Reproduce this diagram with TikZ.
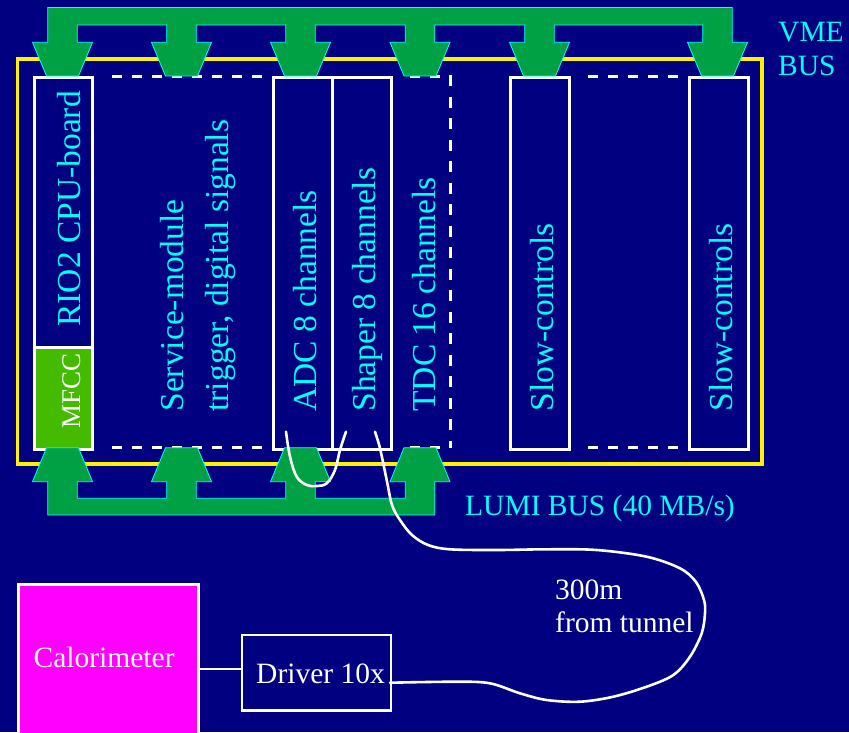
\documentclass[tikz,border=0pt]{standalone}
\usepackage{fontspec}
\setmainfont{Liberation Serif}
\definecolor{navybg}{RGB}{0,0,128}
\definecolor{busgreen}{RGB}{0,160,68}
\definecolor{mfccgreen}{RGB}{68,187,0}
\definecolor{txtcyan}{RGB}{0,255,255}
\definecolor{calmag}{RGB}{255,0,255}
\begin{document}
\begin{tikzpicture}[x=1pt,y=-1pt,
  module/.style={draw=white, line width=3pt, inner sep=0pt, anchor=north west, minimum height=371.7pt},
  dashline/.style={draw=white, line width=3pt, dash pattern=on 10pt off 10pt},
  vlabel/.style={rotate=90, anchor=base west, inner sep=0pt, text=txtcyan, font=\fontsize{33.5}{40}\selectfont},
  hlabel/.style={anchor=base west, inner sep=0pt, font=\fontsize{29.5}{35}\selectfont},
  bus/.style={fill=busgreen, draw=txtcyan, line width=0.8pt, line join=miter},
  cable/.style={draw=white, line width=2.6pt, line cap=round}]
\useasboundingbox (0,0) rectangle (849,732);
\fill[navybg] (0,0) rectangle (849,732);
\clip (0,0) rectangle (849,732);

% crate frame
\draw[yellow, line width=3.6pt] (17.5,58.8) rectangle (762,463.7);

% modules
\node[module, minimum width=58.5pt] (rio) at (32.5,76) {};
\node[module, fill=mfccgreen, minimum width=58.5pt, minimum height=102pt] (mfcc) at (32.5,345.7) {};
\node[module, minimum width=58.4pt] (adc) at (272.3,76) {};
\node[module, minimum width=59.3pt] (shaper) at (330.7,76) {};
\node[module, minimum width=59.5pt] (sc1) at (508.5,76) {};
\node[module, minimum width=59pt] (sc2) at (688,76) {};

% dashed slots
\draw[dashline] (111.7,76) -- (271.7,76);
\draw[dashline] (111.7,447.7) -- (271.7,447.7);
\draw[dashline] (410,76) -- (440,76);
\draw[dashline] (410,447.7) -- (440,447.7);
\draw[white, line width=3pt, dash pattern=on 11pt off 10.5pt] (450,75) -- (450,448);
\draw[dashline] (588.3,76) -- (678.3,76);
\draw[dashline] (588.3,447.7) -- (678.3,447.7);

% module labels
\node[vlabel] (riot) at (80,326.7) {RIO2 CPU-board};
\node[vlabel, text=white, font=\fontsize{27}{32}\selectfont] (mfcct) at (80,429) {MFCC};
\node[vlabel] (serv1) at (183.5,411.7) {Service-module};
\node[vlabel] (serv2) at (228,411.7) {trigger, digital signals};
\node[vlabel] (adct) at (316,411.7) {ADC 8 channels};
\node[vlabel] (shat) at (375,411.7) {Shaper 8 channels};
\node[vlabel] (tdct) at (435,411.7) {TDC 16 channels};
\node[vlabel] (sc1t) at (553.5,411.7) {Slow-controls};
\node[vlabel] (sc2t) at (732.5,411.7) {Slow-controls};

% VME bus
\filldraw[bus] (46.5,76) -- (32.5,42.3) -- (47.7,42.3) -- (47.7,7.5) -- (732.3,7.5) -- (732.3,42.3) -- (747.5,42.3) -- (733.5,76) -- (701.5,76) -- (687.5,42.3) -- (702.7,42.3) -- (702.7,25)
  \foreach \c in {539.5,420,300.5,181.5} { -- ({\c+14.8},25) -- ({\c+14.8},42.3) -- ({\c+30},42.3) -- ({\c+16},76) -- ({\c-16},76) -- ({\c-30},42.3) -- ({\c-14.8},42.3) -- ({\c-14.8},25) }
  -- (77.3,25) -- (77.3,42.3) -- (92.5,42.3) -- (78.5,76) -- cycle;

% LUMI bus
\filldraw[bus] (46.5,447.7) -- (32.5,481.7) -- (47.7,481.7) -- (47.7,515) -- (434.8,515) -- (434.8,481.7) -- (450,481.7) -- (436,447.7) -- (404,447.7) -- (390,481.7) -- (405.2,481.7) -- (405.2,498.3)
  \foreach \c in {300.5,181.5} { -- ({\c+14.8},498.3) -- ({\c+14.8},481.7) -- ({\c+30},481.7) -- ({\c+16},447.7) -- ({\c-16},447.7) -- ({\c-30},481.7) -- ({\c-14.8},481.7) -- ({\c-14.8},498.3) }
  -- (77.3,498.3) -- (77.3,481.7) -- (92.5,481.7) -- (78.5,447.7) -- cycle;

% bus labels
\node[hlabel, text=txtcyan] (vme1) at (778,41.7) {VME};
\node[hlabel, text=txtcyan] (vme2) at (778,75) {BUS};
\node[hlabel, text=txtcyan] (lumi) at (465,515) {LUMI BUS (40 MB/s)};

% calorimeter and driver
\node[draw=white, fill=calmag, line width=3pt, inner sep=0pt, anchor=north west, minimum width=180pt, minimum height=169.2pt] (cal) at (16.7,582.7) {};
\node[hlabel, text=white] (calt) at (33.5,667.3) {Calorimeter};
\node[draw=white, line width=2.4pt, inner sep=0pt, anchor=north west, minimum width=149.3pt, minimum height=75.8pt] (drv) at (240.7,633.5) {};
\node[hlabel, text=white] (drvt) at (256,683.3) {Driver 10x};
\draw[white, line width=2.6pt] (cal.east) -- (cal.east -| drv.west);

% cable labels
\node[hlabel, text=white] (len1) at (555,599.3) {300m};
\node[hlabel, text=white] (len2) at (555,632.7) {from tunnel};

% cables
\coordinate (adcin) at (286,431.7);
\coordinate (shain) at (346,431.7);
\coordinate (shaout) at (375,431.7);
\coordinate (drvout) at (390,682.7);
\draw[cable] plot[smooth, tension=0.6] coordinates {(adcin) (290,456.7) (296.7,476.7) (306.7,485) (316.7,486) (326.7,483.3) (335,470) (340,450) (shain)};
\draw[cable] plot[smooth, tension=0.55] coordinates {(shaout) (380,448.3) (386.7,480) (392,505) (400,520) (412,535) (428,545) (450,549.3) (496.7,550) (546.7,549.3) (596.7,550) (646.7,556.7) (680,568.3) (696,582) (704,600) (705,613.3) (701.7,633.3) (690,656.7) (673.3,675) (646.7,686.7) (613.3,696.7) (580,701.7) (546.7,700) (520,693.3) (490,683.3) (456.7,681.7) (drvout)};
\end{tikzpicture}
\end{document}
